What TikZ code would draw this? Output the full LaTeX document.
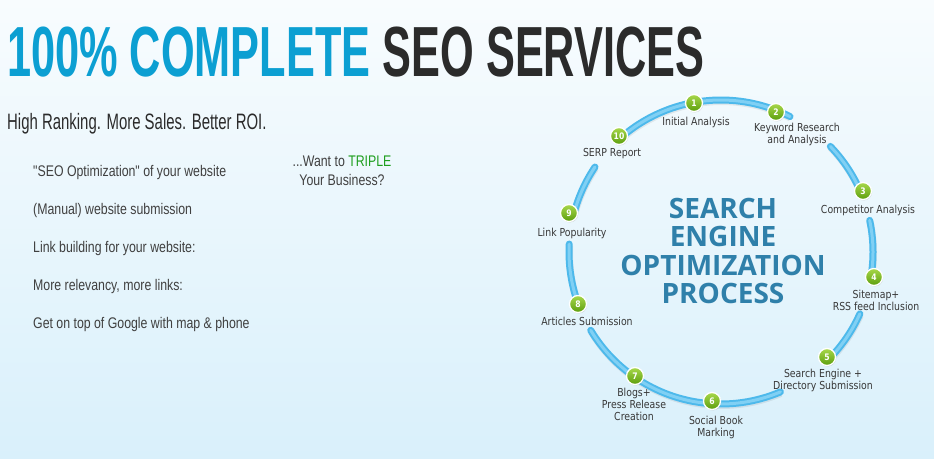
\documentclass[tikz,border=0pt]{standalone}
\usepackage{fontspec}
\usetikzlibrary{shadows}

\newfontfamily\headfont[FakeStretch=0.61]{Liberation Sans}
\newfontfamily\slogfont[FakeStretch=0.67]{Liberation Sans}
\newfontfamily\listfont[FakeStretch=0.8]{Liberation Sans}
\newfontfamily\labfont[FakeStretch=0.85]{DejaVu Sans}
\newfontfamily\seofont{Open Sans}

\definecolor{titleblue}{HTML}{0C9FD2}
\definecolor{titledark}{HTML}{2B2B2B}
\definecolor{listgray}{HTML}{404040}
\definecolor{triplegreen}{HTML}{1E9E1E}
\definecolor{seoblue}{HTML}{2F80AA}
\definecolor{labgray}{HTML}{383838}
\definecolor{ringblue}{HTML}{4DB9EB}
\definecolor{ringlight}{HTML}{80D0F4}
\definecolor{balltop}{HTML}{A8D84A}
\definecolor{ballbottom}{HTML}{5C9E0E}
\definecolor{bgtop}{HTML}{F8FCFE}
\definecolor{bgbottom}{HTML}{D9F0FB}

\begin{document}
\begin{tikzpicture}[x=1pt,y=-1pt]

        % background
        \fill[top color=bgtop, bottom color=bgbottom] (0,0) rectangle (934,458);
        \useasboundingbox (0,0) rectangle (934,458);

        \node[anchor=base west, inner sep=0, text=titledark,
              font=\headfont\bfseries\fontsize{71}{71}\selectfont] (title) at (7,76)
              {\textcolor{titleblue}{100\% COMPLETE} SEO SERVICES};
        \node[anchor=base west, inner sep=0, text=titledark,
              font=\slogfont\fontsize{22.3}{24}\selectfont] (slogan) at (7,129)
              {High Ranking. More Sales. Better ROI.};

        \begin{scope}[every node/.style={anchor=base west, inner sep=0, text=listgray,
                      font=\listfont\fontsize{15.4}{19}\selectfont}]
          \node (b1) at (33,176) {"SEO Optimization" of your website};
          \node (b2) at (33,214) {(Manual) website submission};
          \node (b3) at (33,252) {Link building for your website:};
          \node (b4) at (33,290) {More relevancy, more links:};
          \node (b5) at (33,328) {Get on top of Google with map \& phone};
          \node[anchor=center, align=center] (want) at (342,171)
               {...Want to \textcolor{triplegreen}{TRIPLE}\\Your Business?};
        \end{scope}

        % the ring, broken where the labels sit
        \begin{scope}[shift={(721,252)}]
          \draw[ringblue, line width=7pt, line cap=round,
                preaction={draw=black, opacity=.07, line width=7pt,
                           transform canvas={shift={(.5pt,-1.5pt)}}},
                postaction={draw=ringlight, line width=3pt}]
            plot[domain=228:297, samples=40] (\x:152)
            plot[domain=316:337, samples=15] (\x:152)
            plot[domain=348:369, samples=15] (\x:152)
            plot[domain=384:405, samples=15] (\x:152)
            plot[domain=427:509, samples=45] (\x:152)
            plot[domain=520:543, samples=15] (\x:152)
            plot[domain=554:574, samples=15] (\x:152);
        \end{scope}

        \node[align=center, anchor=north, inner sep=0, text=seoblue,
              font=\seofont\bfseries\fontsize{28}{28.5}\selectfont] (seo) at (723,198)
              {SEARCH\\ENGINE\\OPTIMIZATION\\PROCESS};

        \begin{scope}[every node/.style={circle, draw=white, line width=1.3pt,
                      top color=balltop, bottom color=ballbottom, minimum size=17pt,
                      inner sep=0, text=white, font=\labfont\bfseries\fontsize{9}{9}\selectfont,
                      drop shadow={opacity=.25, shadow xshift=.6pt, shadow yshift=-1pt}}]
          \node (1)  at (694,103) {1};
          \node (2)  at (776,112) {2};
          \node (3)  at (863,191) {3};
          \node (4)  at (874,277) {4};
          \node (5)  at (827,357) {5};
          \node (6)  at (712,401) {6};
          \node (7)  at (635,376) {7};
          \node (8)  at (578,304) {8};
          \node (9)  at (569,213) {9};
          \node (10) at (619,136) {10};
        \end{scope}

        \begin{scope}[every node/.style={align=center, inner sep=0, text=labgray,
                      font=\labfont\fontsize{11}{12}\selectfont}]
          \node (t1)  at (696,122) {Initial Analysis};
          \node (t2)  at (797,134) {Keyword Research\\and Analysis};
          \node (t3)  at (868,210) {Competitor Analysis};
          \node (t4)  at (876,300) {Sitemap+\\RSS feed Inclusion};
          \node (t5)  at (823,380) {Search Engine +\\Directory Submission};
          \node (t6)  at (716,427) {Social Book\\Marking};
          \node (t7)  at (634,404) {Blogs+\\Press Release\\Creation};
          \node (t8)  at (587,321) {Articles Submission};
          \node (t9)  at (572,233) {Link Popularity};
          \node (t10) at (612,154) {SERP Report};
        \end{scope}

\end{tikzpicture}
\end{document}
